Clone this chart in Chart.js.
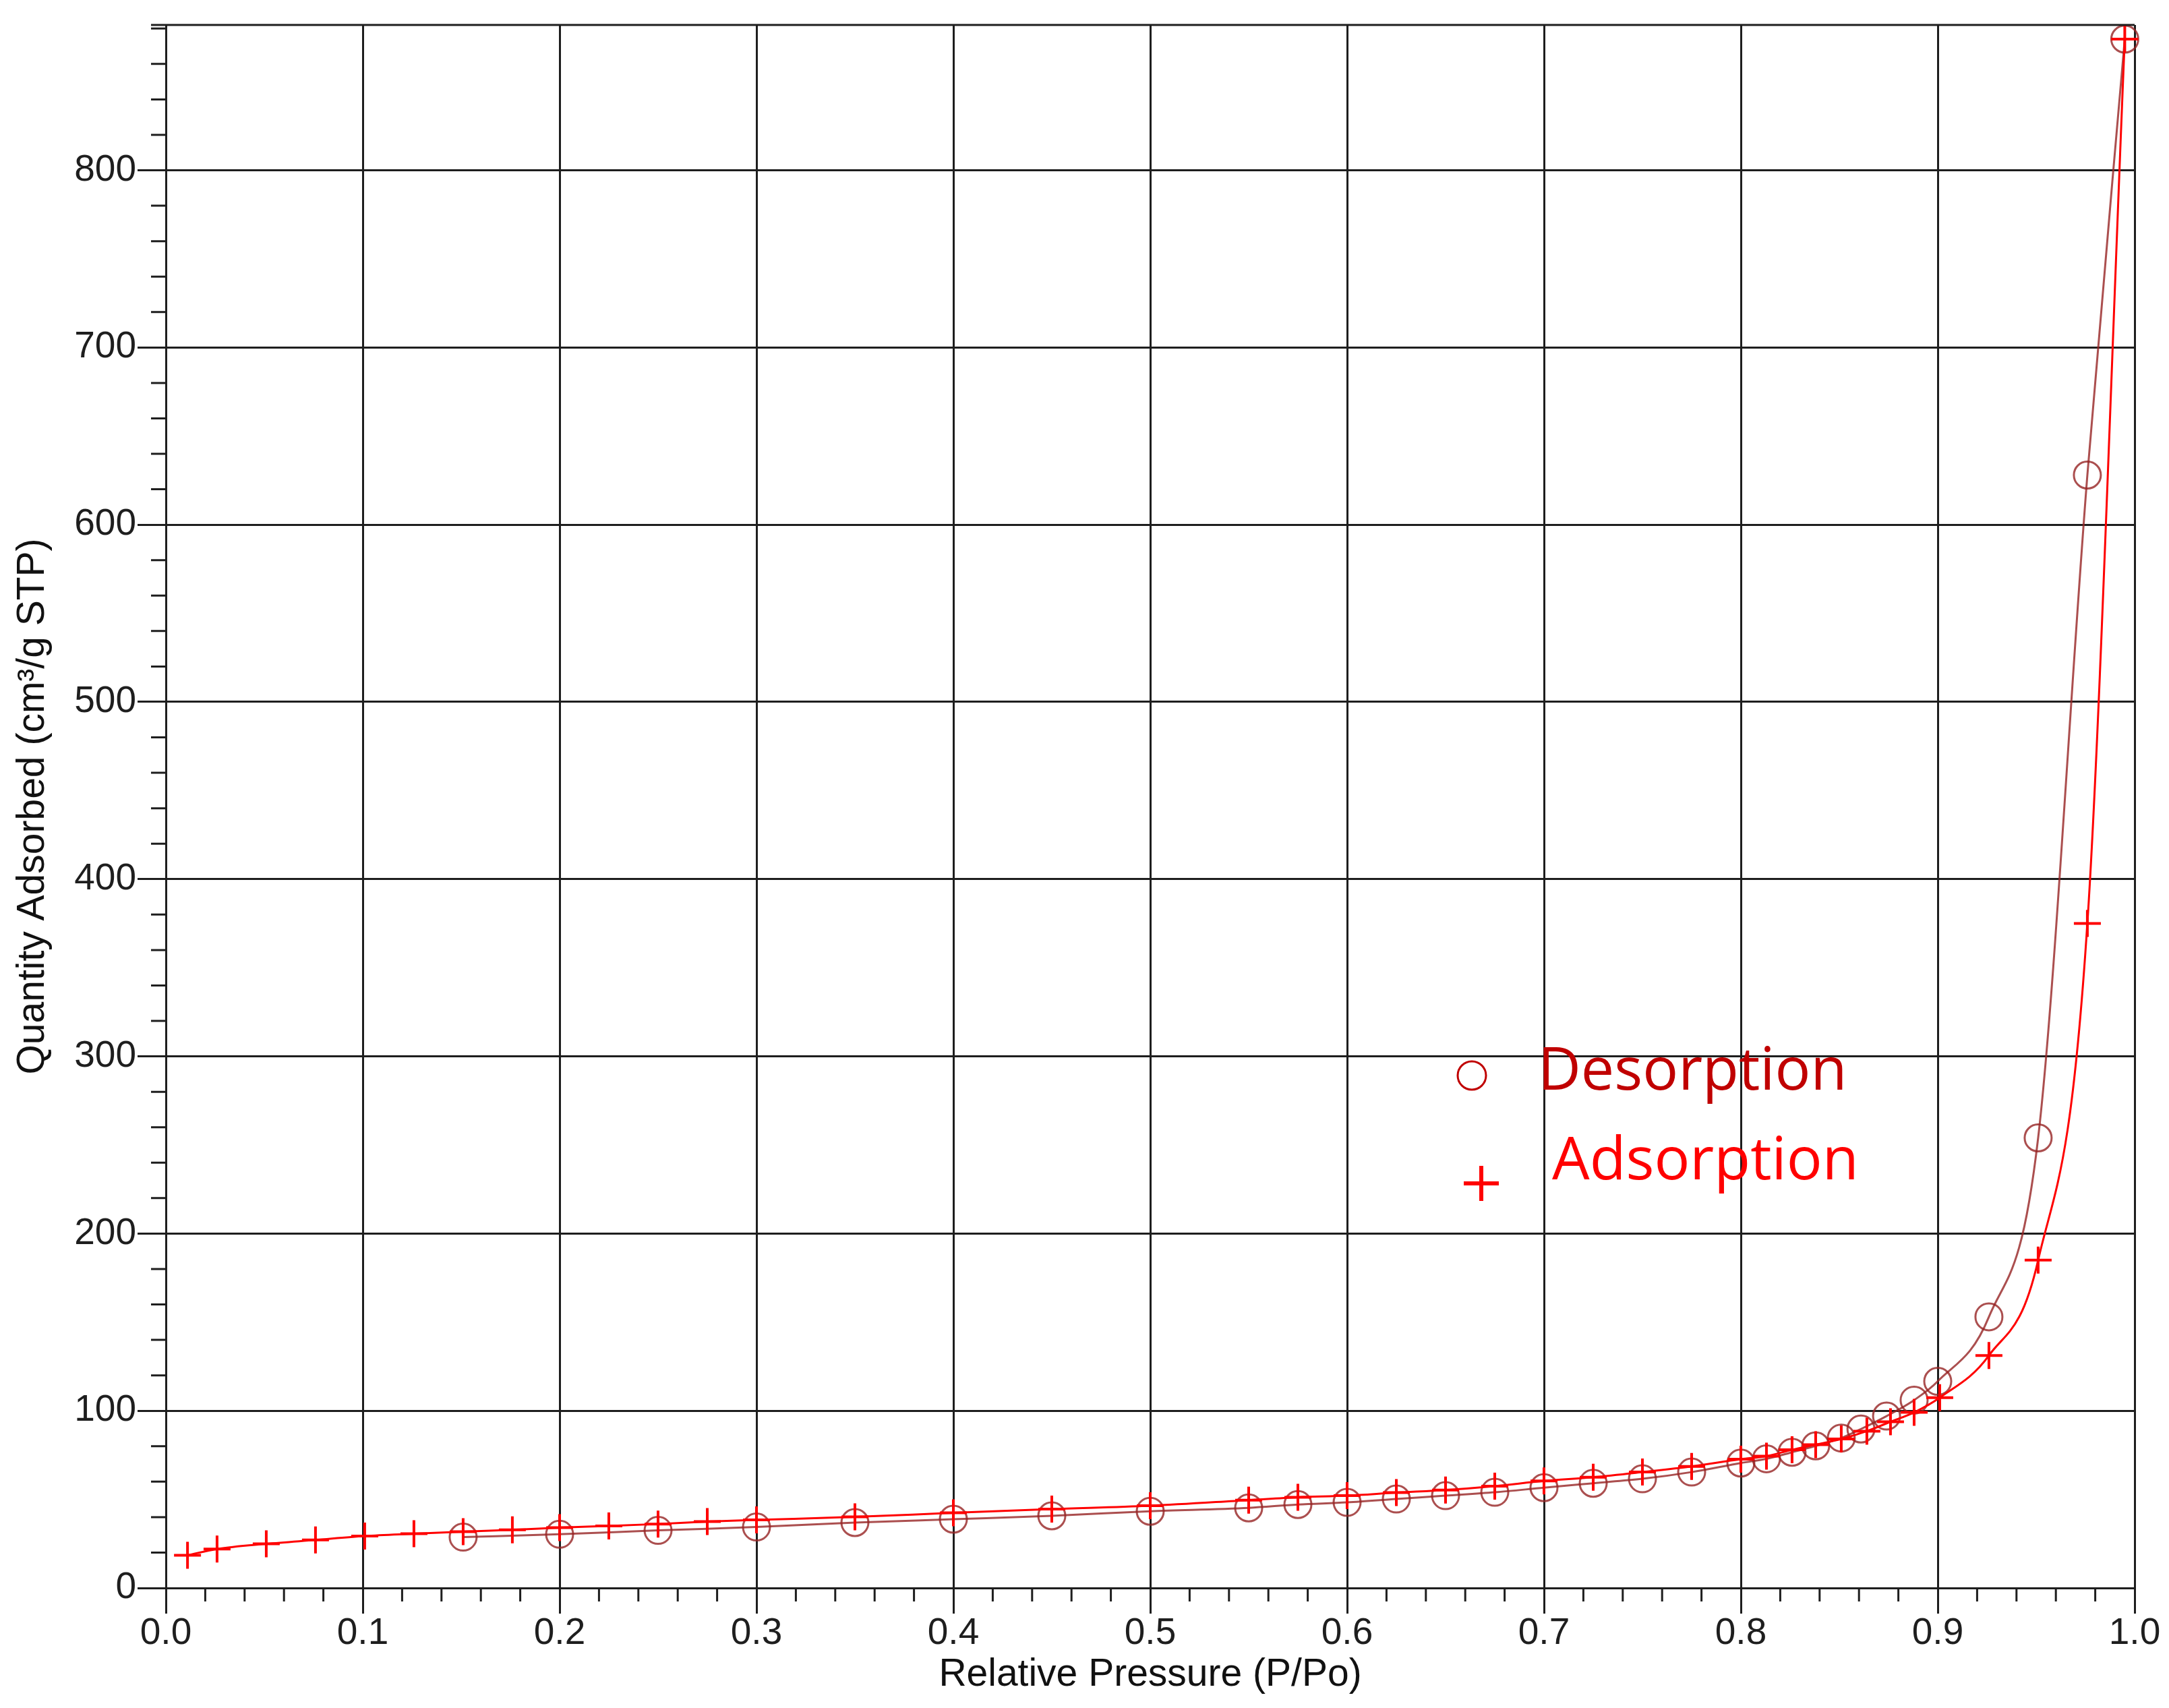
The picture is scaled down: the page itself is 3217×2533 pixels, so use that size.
<!DOCTYPE html>
<html>
<head>
<meta charset="utf-8">
<title>Isotherm</title>
<script src="https://cdn.jsdelivr.net/npm/chart.js@4.4.1/dist/chart.umd.min.js"></script>
<style>
  html, body { margin: 0; padding: 0; background: #ffffff; }
  #chart { display: block; }
</style>
</head>
<body>
<canvas id="chart" width="3217" height="2533"></canvas>
<script>
// Adsorption branch (+)
const adsX = [0.011, 0.026, 0.051, 0.076, 0.101, 0.126, 0.151, 0.176, 0.2, 0.225, 0.25, 0.275, 0.3,
              0.35, 0.4, 0.45, 0.5, 0.55, 0.575, 0.6, 0.625, 0.65, 0.675, 0.7, 0.725, 0.75, 0.775, 0.8,
              0.813, 0.826, 0.838, 0.851, 0.864, 0.876, 0.888, 0.901, 0.926, 0.951, 0.976, 0.995];
const adsY = [18.5, 22.0, 24.9, 27.1, 29.3, 30.6, 31.8, 32.8, 34.1, 35.0, 36.1, 37.5, 38.4,
              40.1, 42.4, 44.5, 46.4, 49.6, 51.2, 52.1, 53.8, 55.3, 57.5, 60.4, 62.5, 65.4, 68.6, 72.7,
              74.4, 78.0, 80.9, 84.1, 88.5, 93.8, 99.1, 107.4, 131.2, 185.0, 375.0, 874.0];

// Desorption branch (o)
const desX = [0.151, 0.2, 0.25, 0.3, 0.35, 0.4, 0.45, 0.5, 0.55, 0.575, 0.6, 0.625, 0.65, 0.675,
              0.7, 0.725, 0.75, 0.775, 0.8, 0.813, 0.826, 0.838, 0.851, 0.861, 0.874, 0.888, 0.9,
              0.926, 0.951, 0.976, 0.995];
const desY = [28.7, 30.3, 32.5, 34.4, 36.9, 38.8, 40.7, 43.3, 45.2, 47.1, 48.3, 50.2, 52.1, 54.0,
              56.6, 59.1, 61.6, 65.4, 70.5, 72.9, 76.6, 80.2, 84.6, 89.7, 97.0, 106.0, 116.6,
              153.0, 254.0, 628.0, 874.0];

// Axis ranges / ticks
const xMin = 0, xMax = 1, xStep = 0.1, xMinorStep = 0.02;
const yMin = 0, yMax = 882, yStep = 100, yMinorStep = 20;
const xTitle = 'Relative Pressure (P/Po)';
const yTitle = 'Quantity Adsorbed (cm³/g STP)';
const legendLabels = ['Desorption', 'Adsorption'];

const axisColor = '#1e1e1e';
const adsColor = '#ff0000';
const desColor = 'rgba(150, 35, 35, 0.8)';

function toPoints(xs, ys) {
    return xs.map((x, i) => ({ x: x, y: ys[i] }));
}

// Minor ticks, top frame and the in-plot legend
const extras = {
    id: 'extras',
    afterDraw(chart) {
        const ctx = chart.ctx;
        const a = chart.chartArea;
        const xs = chart.scales.x, ys = chart.scales.y;
        ctx.save();
        ctx.strokeStyle = axisColor;
        ctx.lineWidth = 3;
        ctx.beginPath();
        ctx.moveTo(a.left - 22, a.top);
        ctx.lineTo(a.right, a.top);
        const nx = Math.round((xMax - xMin) / xMinorStep);
        for (let i = 1; i < nx; i++) {
            if (i % 5 === 0) continue;
            const px = xs.getPixelForValue(xMin + i * xMinorStep);
            ctx.moveTo(px, a.bottom);
            ctx.lineTo(px, a.bottom + 20);
        }
        for (let v = yMinorStep; v < yMax; v += yMinorStep) {
            if (v % yStep === 0) continue;
            const py = ys.getPixelForValue(v);
            ctx.moveTo(a.left - 22, py);
            ctx.lineTo(a.left, py);
        }
        ctx.stroke();

        // legend
        ctx.lineWidth = 3;
        ctx.strokeStyle = '#c00000';
        ctx.beginPath();
        ctx.arc(2183, 1595, 21, 0, Math.PI * 2);
        ctx.stroke();
        ctx.lineWidth = 6;
        ctx.strokeStyle = adsColor;
        ctx.beginPath();
        ctx.moveTo(2171, 1755); ctx.lineTo(2223, 1755);
        ctx.moveTo(2197, 1729); ctx.lineTo(2197, 1781);
        ctx.stroke();

        ctx.font = '88px "Open Sans"';
        ctx.textBaseline = 'alphabetic';
        ctx.textAlign = 'left';
        ctx.fillStyle = '#c00000';
        ctx.fillText(legendLabels[0], 2281, 1616);
        ctx.fillStyle = adsColor;
        ctx.fillText(legendLabels[1], 2302, 1749);
        ctx.restore();
    }
};

const ctx = document.getElementById('chart').getContext('2d');
const myChart = new Chart(ctx, {
    type: 'scatter',
    data: {
        datasets: [
            {
                label: 'Adsorption',
                data: toPoints(adsX, adsY),
                showLine: true,
                cubicInterpolationMode: 'monotone',
                borderColor: adsColor,
                borderWidth: 3,
                pointStyle: 'cross',
                pointRadius: 20,
                pointBorderWidth: 4,
                pointBorderColor: adsColor,
                pointBackgroundColor: adsColor,
                clip: false
            },
            {
                label: 'Desorption',
                data: toPoints(desX, desY),
                showLine: true,
                cubicInterpolationMode: 'monotone',
                borderColor: desColor,
                borderWidth: 3,
                pointStyle: 'circle',
                pointRadius: 20,
                pointBorderWidth: 3,
                pointBorderColor: desColor,
                pointBackgroundColor: 'rgba(0,0,0,0)',
                clip: false
            }
        ]
    },
    options: {
        responsive: false,
        animation: false,
        devicePixelRatio: 1,
        layout: { padding: { top: 37, right: 51, left: 0, bottom: 0 } },
        plugins: {
            legend: { display: false },
            tooltip: { enabled: false }
        },
        scales: {
            x: {
                type: 'linear',
                min: xMin,
                max: xMax,
                afterFit: function (scale) { scale.height = 178; },
                ticks: {
                    stepSize: xStep,
                    includeBounds: false,
                    padding: -3,
                    color: axisColor,
                    font: { family: '"Liberation Sans", Arial, sans-serif', size: 55 },
                    callback: function (value) { return Number(value).toFixed(1); }
                },
                grid: {
                    color: axisColor,
                    lineWidth: 3,
                    tickLength: 38,
                    tickColor: axisColor,
                    tickWidth: 3
                },
                border: { display: true, color: axisColor, width: 3 },
                title: {
                    display: true,
                    text: xTitle,
                    color: '#111111',
                    font: { family: '"Liberation Sans", Arial, sans-serif', size: 57 },
                    padding: { top: 0, bottom: 15 }
                }
            },
            y: {
                type: 'linear',
                min: yMin,
                max: yMax,
                afterFit: function (scale) { scale.width = 246; },
                ticks: {
                    stepSize: yStep,
                    includeBounds: false,
                    padding: 2,
                    color: axisColor,
                    font: { family: '"Liberation Sans", Arial, sans-serif', size: 55 }
                },
                grid: {
                    color: axisColor,
                    lineWidth: 3,
                    tickLength: 42,
                    tickColor: axisColor,
                    tickWidth: 3
                },
                border: { display: true, color: axisColor, width: 3 },
                title: {
                    display: true,
                    text: yTitle,
                    color: '#111111',
                    font: { family: '"Liberation Sans", Arial, sans-serif', size: 57 },
                    padding: { top: 15, bottom: 0 }
                }
            }
        }
    },
    plugins: [extras]
});
</script>
</body>
</html>
